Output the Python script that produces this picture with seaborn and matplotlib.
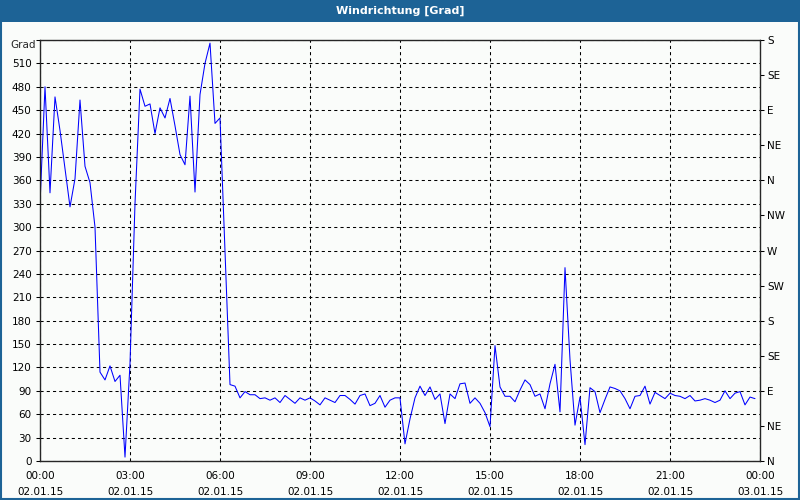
import numpy as np
import pandas as pd
import seaborn as sns
import matplotlib.pyplot as plt
import matplotlib.dates as mdates
from matplotlib.patches import Rectangle

# wind direction in degrees, one value every 10 minutes (02.01.15 00:00 .. 23:50)
direction = [
    330, 480, 344, 467, 424, 375, 326, 362, 463, 378, 357, 300,   # 00:00-01:50
    114, 104, 122, 102, 110, 5, 125, 330, 477, 455, 458, 420,     # 02:00-03:50
    453, 440, 465, 430, 393, 380, 468, 345, 470, 510, 536, 433,   # 04:00-05:50
    440, 270, 98, 96, 81, 89, 85, 85, 80, 81, 78, 81,             # 06:00-07:50
    75, 84, 79, 74, 81, 78, 81, 77, 72, 81, 78, 75,               # 08:00-09:50
    84, 84, 79, 73, 84, 86, 71, 74, 84, 69, 78, 81,               # 10:00-11:50
    81, 22, 54, 81, 96, 84, 95, 79, 86, 48, 86, 80,               # 12:00-13:50
    99, 100, 74, 81, 74, 62, 44, 148, 95, 83, 83, 76,             # 14:00-15:50
    91, 104, 98, 83, 86, 67, 99, 124, 63, 248, 130, 46,           # 16:00-17:50
    82, 21, 94, 89, 62, 79, 95, 93, 90, 80, 67, 83,               # 18:00-19:50
    84, 96, 73, 88, 84, 80, 87, 84, 83, 80, 84, 77,               # 20:00-21:50
    78, 80, 78, 75, 78, 90, 80, 87, 89, 72, 82, 80,               # 22:00-23:50
]
times = pd.date_range("2015-01-02 00:00", periods=len(direction), freq="10min")

left_ticks = list(range(0, 541, 30))
compass_ticks = list(range(0, 541, 45))
compass_labels = ["N", "NE", "E", "SE", "S", "SW", "W", "NW", "N", "NE", "E", "SE", "S"]

df = pd.DataFrame({"time": times, "deg": direction})

sns.set_style("white")
plt.rcParams["font.family"] = ["DejaVu Sans"]
plt.rcParams["font.size"] = 7.5

bg = "#fafcfa"
blue_bar = "#1d6396"

fig = plt.figure(figsize=(8, 5), dpi=100, facecolor=bg)
ax = fig.add_axes([40 / 800, 39 / 500, 720 / 800, 421 / 500])
ax.set_facecolor(bg)

sns.lineplot(data=df, x="time", y="deg", ax=ax, color="#0000ff", linewidth=0.75)

x0 = pd.Timestamp("2015-01-02 00:00")
x1 = pd.Timestamp("2015-01-03 00:00")
ax.set_xlim(x0, x1)
ax.set_ylim(0, 540)

ax.xaxis.set_major_locator(mdates.HourLocator(byhour=range(0, 24, 3)))
ax.xaxis.set_minor_locator(mdates.HourLocator())
ax.xaxis.set_major_formatter(mdates.DateFormatter("%H:%M\n%d.%m.%y"))
ax.set_yticks(left_ticks)
ax.set_yticklabels([str(v) for v in left_ticks[:-1]] + [""])
ax.set_xlabel("")
ax.set_ylabel("")

ax.tick_params(axis="x", which="both", direction="out", length=4, width=0.75,
               colors="black", pad=3)
ax.tick_params(axis="y", direction="out", length=3, width=0.75, colors="black", pad=3)
for lab in ax.get_xticklabels():
    lab.set_linespacing(1.75)

ax.grid(True, axis="both", which="major", color="black", linewidth=0.75,
        linestyle=(0, (3, 3)))
for s in ax.spines.values():
    s.set_color("black")
    s.set_linewidth(0.9)

ax2 = ax.twinx()
ax2.set_ylim(0, 540)
ax2.set_yticks(compass_ticks)
ax2.set_yticklabels(compass_labels)
ax2.tick_params(axis="y", direction="out", length=3, width=0.75, colors="black", pad=2)
ax2.grid(False)

ax.text(-0.006, 534, "Grad", transform=ax.get_yaxis_transform(), ha="right",
        va="center", fontsize=7.5)

# title bar and frame
fig.patches.append(Rectangle((0, 1 - 22 / 500), 1, 22 / 500, transform=fig.transFigure,
                             facecolor=blue_bar, edgecolor="none", zorder=0))
fig.patches.append(Rectangle((0.001, 0.002), 0.998, 0.996, transform=fig.transFigure,
                             facecolor="none", edgecolor=blue_bar, linewidth=1.5, zorder=0))
fig.text(0.5, 1 - 11 / 500, "Windrichtung [Grad]", color="white", fontweight="bold",
         ha="center", va="center", fontsize=8)

fig.savefig("out.png", dpi=100, facecolor=bg)
